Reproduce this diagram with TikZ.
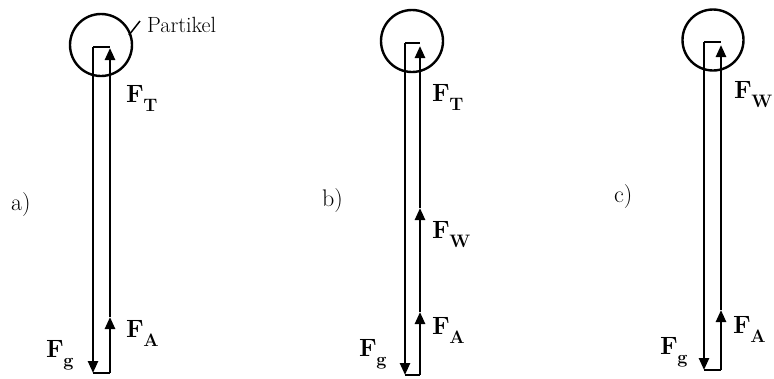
\documentclass[tikz,border=0pt]{standalone}
\usepackage{fix-cm}
\usetikzlibrary{arrows.meta}
\newcommand{\flab}[1]{\bfseries\fontsize{25}{25}\selectfont F\kern-0.5pt\raisebox{-9pt}{\fontsize{18}{18}\selectfont #1}}
\tikzset{
  line/.style={line width=2.5pt},
  arr/.style={line width=2.5pt,-{Triangle[length=12pt,width=10pt]}},
  part/.style={circle,draw,line width=2.4pt,minimum size=60pt,inner sep=0pt},
  lbl/.style={anchor=base west,inner sep=0pt},
  panel/.style={anchor=base west,inner sep=0pt,font=\fontsize{24}{24}\selectfont}
}
\begin{document}
\begin{tikzpicture}[x=1pt,y=-1pt]
\useasboundingbox (0,0) rectangle (774,378);
% ---------- panel a
\node[part,minimum size=62pt] (ca) at (101,45) {};
\coordinate (aTL) at (93,47);
\coordinate (aTR) at (110,47);
\coordinate (aTT) at (110,48);
\coordinate (aBL) at (93,373);
\coordinate (aBR) at (110,373);
\coordinate (aMA) at (110,317);
\draw[line] (aTL) -- (aTR);
\draw[arr] (aTL) -- (aBL);
\draw[line] (aBL) -- (aBR);
\draw[arr] (aBR) -- (aMA);
\draw[arr] (aMA) -- (aTT);
\coordinate (pa) at (129,35);
\coordinate (pb) at (140,21);
\draw[line width=1.5pt] (pa) -- (pb);
\node[lbl,font=\fontsize{22}{22}\selectfont] (partikel) at (147,32) {Partikel};
\node[lbl] (aFT) at (126,102) {\flab{T}};
\node[lbl] (aFA) at (126,337) {\flab{A}};
\node[lbl] (aFg) at (46,357) {\flab{g}};
\node[panel] (la) at (11,210) {a)};
% ---------- panel b
\node[part,minimum size=62pt] (cb) at (412,41) {};
\coordinate (bTL) at (405,43);
\coordinate (bTR) at (420,43);
\coordinate (bTT) at (420,46);
\coordinate (bBL) at (405,375);
\coordinate (bBR) at (420,375);
\coordinate (bMA) at (420,312);
\coordinate (bMW) at (420,208);
\draw[line] (bTL) -- (bTR);
\draw[arr] (bTL) -- (bBL);
\draw[line] (bBL) -- (bBR);
\draw[arr] (bBR) -- (bMA);
\draw[arr] (bMA) -- (bMW);
\draw[arr] (bMW) -- (bTT);
\node[lbl] (bFT) at (432,101) {\flab{T}};
\node[lbl] (bFW) at (432,238) {\flab{W}};
\node[lbl] (bFA) at (432,334) {\flab{A}};
\node[lbl] (bFg) at (359,356) {\flab{g}};
\node[panel] (lb) at (322,206) {b)};
% ---------- panel c
\node[part,minimum size=61pt] (cc) at (713,40) {};
\coordinate (cTL) at (704,42);
\coordinate (cTR) at (721,42);
\coordinate (cTT) at (721,45);
\coordinate (cBL) at (704,370);
\coordinate (cBR) at (721,370);
\coordinate (cMA) at (721,310);
\draw[line] (cTL) -- (cTR);
\draw[arr] (cTL) -- (cBL);
\draw[line] (cBL) -- (cBR);
\draw[arr] (cBR) -- (cMA);
\draw[arr] (cMA) -- (cTT);
\node[lbl] (cFW) at (734,98) {\flab{W}};
\node[lbl] (cFA) at (733,333) {\flab{A}};
\node[lbl] (cFg) at (660,354) {\flab{g}};
\node[panel] (lc) at (614,202) {c)};
\end{tikzpicture}
\end{document}
